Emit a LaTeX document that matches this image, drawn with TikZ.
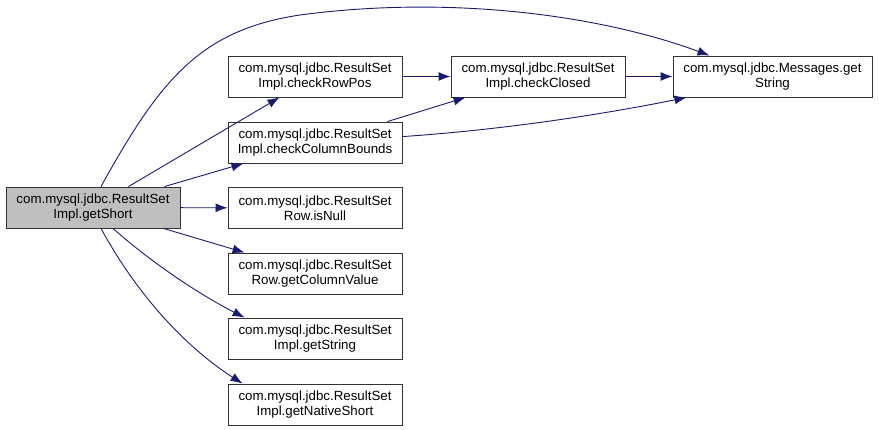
\documentclass[tikz,border=0pt]{standalone}
\usepackage{fontspec}
\setmainfont{Liberation Sans}
\usetikzlibrary{arrows.meta}
\definecolor{edgeblue}{HTML}{191970}
\definecolor{hilite}{HTML}{BFBFBF}

\tikzset{
    fn/.style={draw=black!80, line width=0.9pt, fill=white, minimum width=174pt,
        minimum height=41pt, inner sep=0pt, align=center,
        font=\fontsize{13.3}{15}\selectfont},
    call/.style={draw=edgeblue, line width=0.9pt, -{Latex[length=12pt,width=9pt]}}
}

\begin{document}
\begin{tikzpicture}[x=1pt,y=-1pt]
    \useasboundingbox (0,0) rectangle (879,430);

    % Caller
    \node[fn, fill=hilite] (getShort) at (93,207.5) {com.mysql.jdbc.ResultSet\\Impl.getShort};

    % Direct callees
    \node[fn] (checkRowPos) at (315,76.5) {com.mysql.jdbc.ResultSet\\Impl.checkRowPos};
    \node[fn] (checkColBounds) at (315,142.5) {com.mysql.jdbc.ResultSet\\Impl.checkColumnBounds};
    \node[fn] (isNull) at (315,208) {com.mysql.jdbc.ResultSet\\Row.isNull};
    \node[fn] (getColValue) at (315,273.5) {com.mysql.jdbc.ResultSet\\Row.getColumnValue};
    \node[fn] (getString) at (315,338.5) {com.mysql.jdbc.ResultSet\\Impl.getString};
    \node[fn] (getNativeShort) at (315,404.5) {com.mysql.jdbc.ResultSet\\Impl.getNativeShort};

    % Further down the chain
    \node[fn] (checkClosed) at (538,76.5) {com.mysql.jdbc.ResultSet\\Impl.checkClosed};
    \node[fn, minimum width=199pt] (msgGet) at (772.5,76.5) {com.mysql.jdbc.Messages.get\\String};

    % Calls
    \draw[call] (getShort) -- (checkRowPos);
    \draw[call] (getShort) -- (checkColBounds);
    \draw[call] (getShort) -- (isNull);
    \draw[call] (getShort) -- (getColValue);
    \draw[call] (getShort.south) ++(20,0) .. controls (160,270) and (210,300) .. ([xshift=17pt]getString.north west);
    \draw[call] (getShort.south) ++(8,0) .. controls (140,300) and (190,350) .. ([xshift=15pt]getNativeShort.north west);
    \draw[call] (getShort.north) ++(8,0) .. controls (160,80) and (200,30) .. (300,15)
        .. controls (450,-5) and (600,15) .. ([xshift=37pt]msgGet.north west);
    \draw[call] (checkRowPos) -- (checkClosed);
    \draw[call] (checkColBounds.north east) ++(-15,0) -- ([xshift=15pt]checkClosed.south west);
    \draw[call] (checkColBounds) .. controls (500,130) and (600,115) .. ([xshift=14pt]msgGet.south west);
    \draw[call] (checkClosed) -- (msgGet);
\end{tikzpicture}
\end{document}
